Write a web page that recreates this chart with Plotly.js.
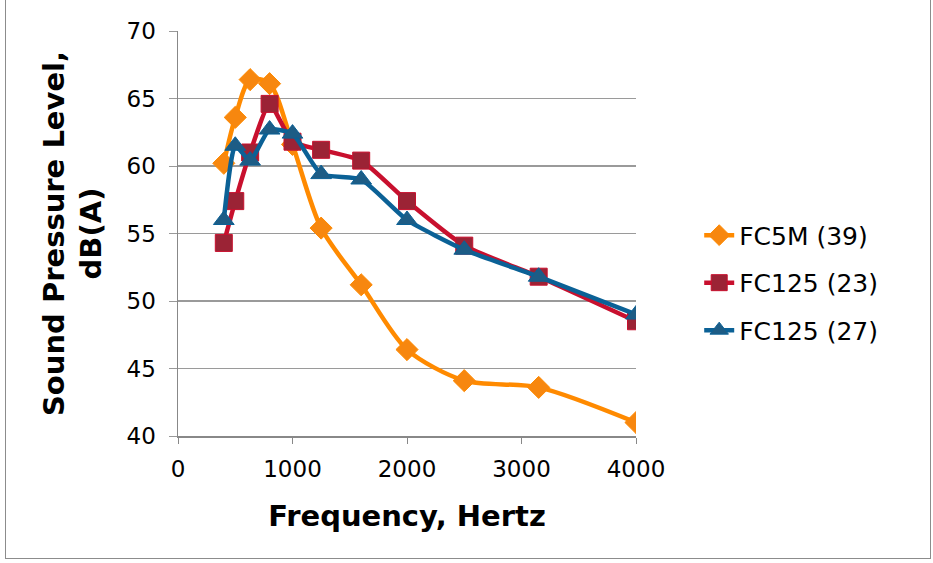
<!DOCTYPE html>
<html><head><meta charset="utf-8">
<script src="https://cdn.plot.ly/plotly-3.0.1.min.js"></script>
<style>html,body{margin:0;padding:0;background:#fff;}#frame{position:absolute;left:5px;top:-1px;width:924px;height:558px;border:1px solid #8c8c8c;pointer-events:none;}</style>
</head><body>
<div id="chart" style="width:933px;height:563px;"></div>
<div id="frame"></div>
<script>
const freq = [400, 500, 630, 800, 1000, 1250, 1600, 2000, 2500, 3150, 4000];
const fc5m39 = [60.2, 63.6, 66.4, 66.1, 61.6, 55.4, 51.2, 46.4, 44.1, 43.6, 41.0];
const fc125_23 = [54.3, 57.4, 61.0, 64.6, 61.8, 61.2, 60.4, 57.4, 54.1, 51.8, 48.5];
const fc125_27 = [56.0, 61.5, 60.4, 62.7, 62.4, 59.4, 59.0, 56.0, 53.8, 51.8, 49.0];
const names = ["FC5M (39)", "FC125 (23)", "FC125 (27)"];
const xTicks = [0, 1000, 2000, 3000, 4000];
const yTicks = [40, 45, 50, 55, 60, 65, 70];

const font = "Verdana, 'DejaVu Sans', sans-serif";
const traces = [
  {x: freq, y: fc5m39, name: names[0], legendgroup: "a", mode: "lines+markers",
   line: {color: "#FF8A00", width: 4.5, shape: "spline", smoothing: 0.8},
   marker: {symbol: "diamond", size: 17, color: "#F7870F", line: {color: "#FF8A00", width: 1}}},
  {x: freq, y: fc125_23, name: names[1], legendgroup: "b", mode: "lines+markers",
   line: {color: "#C8102E", width: 4.5, shape: "spline", smoothing: 0.5},
   marker: {symbol: "square", size: 17, color: "#9B2335", line: {color: "#C8102E", width: 1}}},
  {x: freq, y: fc125_27, name: names[2], legendgroup: "c", mode: "lines+markers",
   line: {color: "#0B6196", width: 4.5, shape: "spline", smoothing: 0.5},
   marker: {symbol: "triangle-up", size: 18, color: "#1D5C85", line: {color: "#0B6196", width: 1}}}
];
const layout = {
  width: 933, height: 563,
  margin: {l: 178, r: 297, t: 31, b: 127},
  paper_bgcolor: "#fff", plot_bgcolor: "#fff",
  showlegend: true,
  legend: {x: 1.138, y: 0.378, yanchor: "middle", xanchor: "left", traceorder: "grouped",
           font: {family: font, size: 25, color: "#000"}, tracegroupgap: 12},
  xaxis: {range: [0, 4000], tickvals: xTicks, ticks: "outside", ticklen: 6, tickcolor: "#888",
          showgrid: false, zeroline: false, showline: true, linecolor: "#888", linewidth: 1.5,
          tickfont: {family: font, size: 23, color: "#000"}, ticklabelstandoff: 6,
          title: {text: "<b>Frequency, Hertz</b>", font: {family: font, size: 29, color: "#000"}, standoff: 24}},
  yaxis: {range: [40, 70], tickvals: yTicks, ticks: "outside", ticklen: 8, tickcolor: "#999",
          showgrid: true, gridcolor: "#9a9a9a", gridwidth: 1.5, zeroline: false,
          showline: true, linecolor: "#888", linewidth: 1.5,
          tickfont: {family: font, size: 23, color: "#000"}, ticklabelstandoff: 8,
          title: {text: "<b>Sound Pressure Level,<br>dB(A)</b>", font: {family: font, size: 29, color: "#000"}, standoff: 16}}
};
Plotly.newPlot("chart", traces, layout, {displayModeBar: false, staticPlot: true});
</script>
</body></html>
